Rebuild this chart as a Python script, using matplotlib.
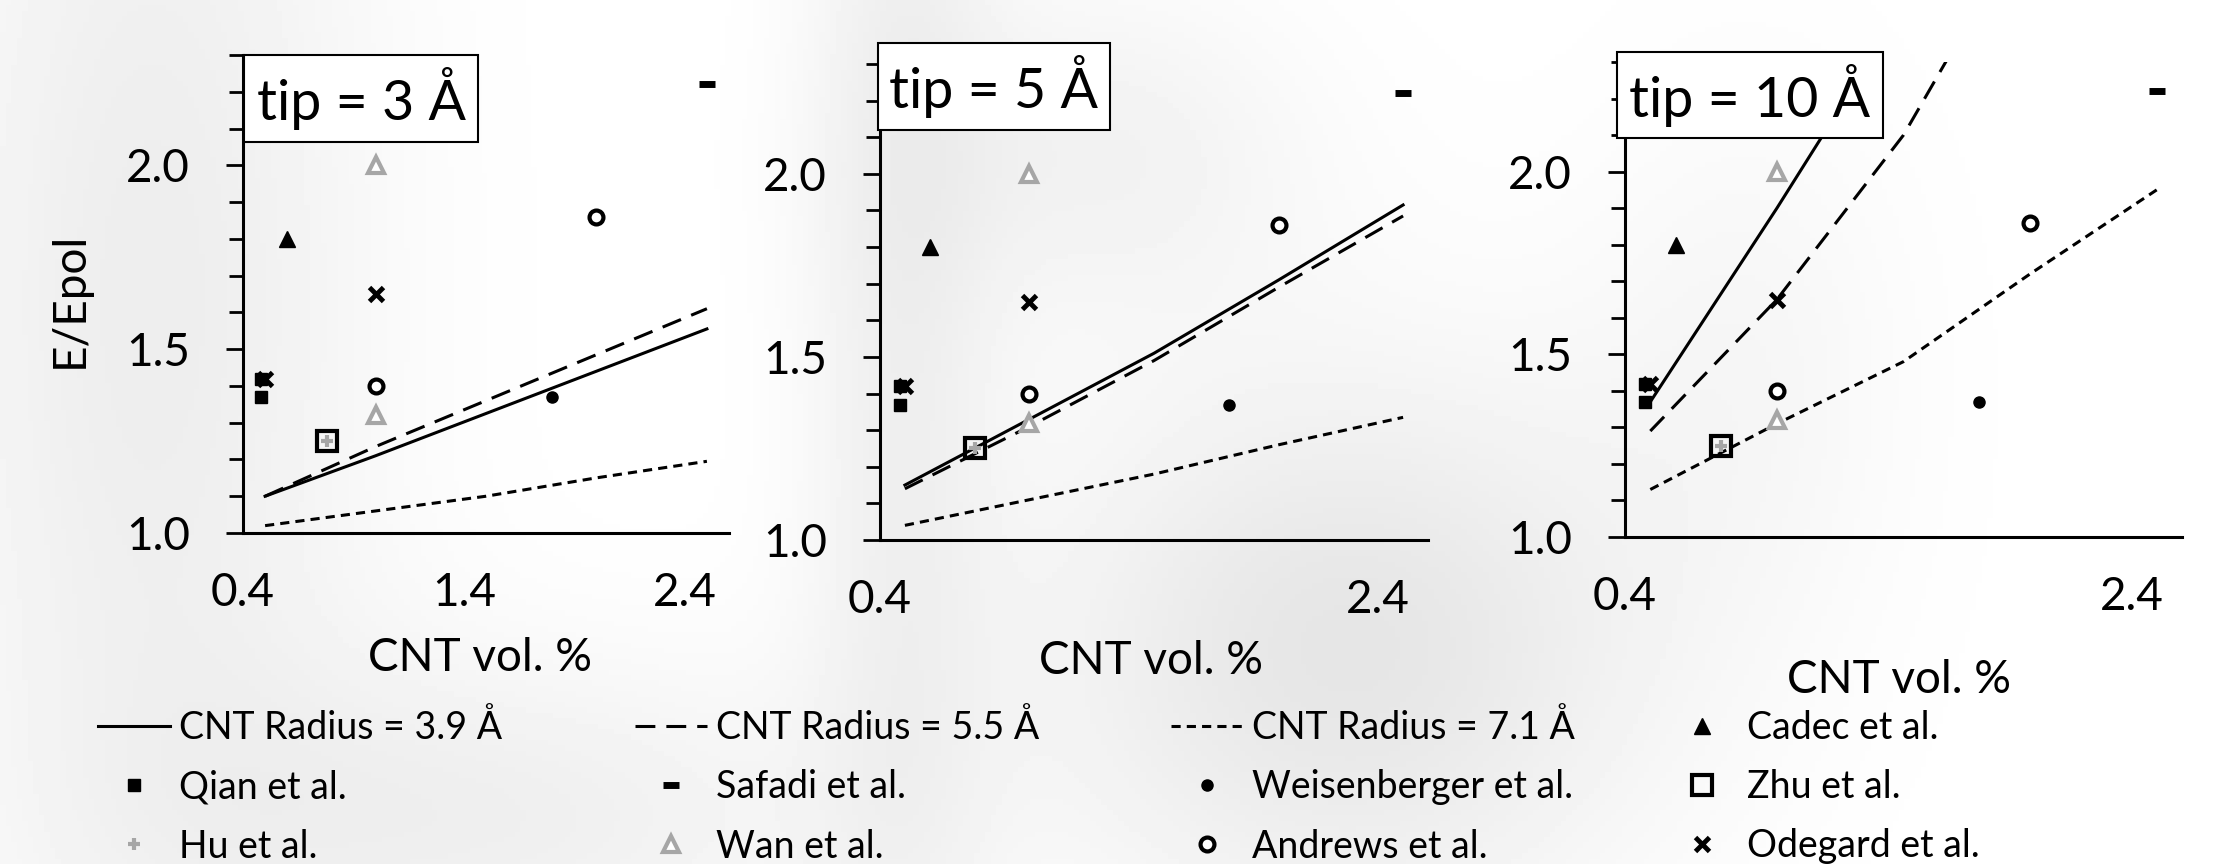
import matplotlib
matplotlib.use("Agg")
import matplotlib.pyplot as plt
from matplotlib.lines import Line2D
from matplotlib.patches import Rectangle
import numpy as np

plt.rcParams['font.family'] = ['Lato', 'DejaVu Sans']

# model curves (E/Epol vs CNT vol. %), one set per tip size
tips = ['tip = 3 Å', 'tip = 5 Å', 'tip = 10 Å']
model_x = [0.5, 1.0, 1.5, 2.0, 2.5]
r39 = [
    [1.10, 1.21, 1.325, 1.44, 1.555],
    [1.15, 1.33, 1.51, 1.71, 1.915],
    [1.37, 1.90, 2.45],
]
r55 = [
    [1.10, 1.235, 1.36, 1.485, 1.61],
    [1.14, 1.31, 1.49, 1.69, 1.885],
    [1.29, 1.65, 2.10, 2.70],
]
r71 = [
    [1.02, 1.06, 1.10, 1.15, 1.195],
    [1.04, 1.11, 1.18, 1.26, 1.335],
    [1.13, 1.31, 1.48, 1.72, 1.95],
]

# experimental points
qian_x, qian_y = [0.48, 0.48], [1.37, 1.42]
safadi_x, safadi_y = [2.5], [2.22]
hu_x, hu_y = [0.78], [1.25]
wan_x, wan_y = [1.0, 1.0], [2.0, 1.32]
weis_x, weis_y = [1.8], [1.37]
andrews_x, andrews_y = [1.0, 2.0], [1.40, 1.86]
cadec_x, cadec_y = [0.6], [1.80]
zhu_x, zhu_y = [0.78], [1.25]
odegard_x, odegard_y = [0.5, 1.0], [1.42, 1.65]

xticks = [[0.4, 1.4, 2.4], [0.4, 2.4], [0.4, 2.4]]

GREY = '#A6A6A6'
W, H = 2214, 864

fig = plt.figure(figsize=(W / 100, H / 100), dpi=100)

# faint background picture
bg = fig.add_axes([0, 0, 1, 1], zorder=-10)
gx, gy = np.meshgrid(np.linspace(0, W, 400), np.linspace(0, H, 160))
field = np.zeros_like(gx)
for cx, cy, sx, sy, a in [(150, 300, 160, 500, 0.07), (900, 250, 70, 600, 0.06),
                          (1350, 650, 220, 200, 0.10), (1100, 150, 150, 120, 0.05),
                          (500, 820, 250, 120, 0.06), (1750, 350, 120, 200, 0.03)]:
    field += a * np.exp(-((gx - cx) ** 2 / (2 * sx ** 2) + (gy - cy) ** 2 / (2 * sy ** 2)))
bg.imshow(1 - field, cmap='gray', vmin=0, vmax=1, extent=[0, W, H, 0], aspect='auto')
bg.axis('off')

rects = [
    [243 / W, 1 - 533 / H, 486 / W, 478 / H],
    [880 / W, 1 - 540 / H, 548 / W, 476 / H],
    [1625 / W, 1 - 537 / H, 557 / W, 475 / H],
]
boxes = [(0.002, 0.818, 0.484, 1.0), (-0.004, 0.861, 0.42, 1.044), (-0.014, 0.84, 0.463, 1.02)]
xlab_pos = [(0.488, -0.262), (0.495, -0.254), (0.492, -0.301)]

solid_kw = dict(color='black', lw=2.2, ls='-')
dash_kw = dict(color='black', lw=2.2, dashes=(6.5, 3.6))
dot_kw = dict(color='black', lw=2.2, dashes=(3.0, 2.0))

styles = {
    'Qian': dict(marker='s', ms=8.5, color='black', ls='none'),
    'Safadi': dict(marker='_', ms=12, mew=5, color='black', ls='none'),
    'Hu': dict(marker='+', ms=9, mew=3, color=GREY, ls='none'),
    'Wan': dict(marker='^', ms=11, mew=3, mfc='white', mec=GREY, ls='none'),
    'Weis': dict(marker='o', ms=8, color='black', ls='none'),
    'Andrews': dict(marker='o', ms=10, mew=3, mfc='white', mec='black', ls='none'),
    'Cadec': dict(marker='^', ms=12, color='black', ls='none'),
    'Zhu': dict(marker='s', ms=15, mew=3, mfc='none', mec='black', ls='none'),
    'Odegard': dict(marker='x', ms=10, mew=3.5, color='black', ls='none'),
}

for i in range(3):
    ax = fig.add_axes(rects[i])
    ax.set_facecolor('none')
    n1, n2, n3 = len(r39[i]), len(r55[i]), len(r71[i])
    ax.plot(model_x[:n1], r39[i], **solid_kw)
    ax.plot(model_x[:n2], r55[i], **dash_kw)
    ax.plot(model_x[:n3], r71[i], **dot_kw)

    ax.plot(qian_x, qian_y, **styles['Qian'])
    ax.plot(safadi_x, safadi_y, **styles['Safadi'])
    ax.plot(weis_x, weis_y, **styles['Weis'])
    ax.plot(andrews_x, andrews_y, **styles['Andrews'])
    ax.plot(cadec_x, cadec_y, **styles['Cadec'])
    ax.plot(zhu_x, zhu_y, **styles['Zhu'])
    ax.plot(odegard_x, odegard_y, **styles['Odegard'])
    ax.plot(wan_x, wan_y, **styles['Wan'])
    ax.plot(hu_x, hu_y, **styles['Hu'])

    ax.set_xlim(0.4, 2.6)
    ax.set_ylim(1.0, 2.3)
    ax.set_xticks(xticks[i])
    ax.set_xticklabels([f'{v:.1f}' for v in xticks[i]])
    ax.set_yticks([1.0, 1.5, 2.0])
    ax.set_yticklabels(['1.0', '1.5', '2.0'])
    ax.set_yticks(np.arange(1.0, 2.31, 0.1), minor=True)
    ax.tick_params(axis='x', length=0, pad=28, labelsize=33)
    ax.tick_params(axis='y', which='major', length=12, width=2, pad=26, labelsize=33)
    ax.tick_params(axis='y', which='minor', length=10, width=2)
    for s in ['top', 'right']:
        ax.spines[s].set_visible(False)
    for s in ['left', 'bottom']:
        ax.spines[s].set_linewidth(2.2)

    x0, y0, x1, y1 = boxes[i]
    ax.add_patch(Rectangle((x0, y0), x1 - x0, y1 - y0, transform=ax.transAxes,
                           facecolor='white', edgecolor='black', lw=1.5,
                           clip_on=False, zorder=5))
    ax.text((x0 + x1) / 2, (y0 + y1) / 2, tips[i], transform=ax.transAxes,
            ha='center', va='center', fontsize=40, zorder=6)

    ax.set_xlabel('CNT vol. %', fontsize=33, va='center')
    ax.xaxis.set_label_coords(*xlab_pos[i])
    if i == 0:
        ax.set_ylabel('E/Epol', fontsize=33, va='center')
        ax.yaxis.set_label_coords(-0.356, 0.487)

# legend: four columns
columns = [
    [(Line2D([], [], **solid_kw), 'CNT Radius = 3.9 Å'),
     (Line2D([], [], **styles['Qian']), 'Qian et al.'),
     (Line2D([], [], **styles['Hu']), 'Hu et al.')],
    [(Line2D([], [], **dash_kw), 'CNT Radius = 5.5 Å'),
     (Line2D([], [], **styles['Safadi']), 'Safadi et al.'),
     (Line2D([], [], **styles['Wan']), 'Wan et al.')],
    [(Line2D([], [], **dot_kw), 'CNT Radius = 7.1 Å'),
     (Line2D([], [], **styles['Weis']), 'Weisenberger et al.'),
     (Line2D([], [], **styles['Andrews']), 'Andrews et al.')],
    [(Line2D([], [], **styles['Cadec']), 'Cadec et al.'),
     (Line2D([], [], **styles['Zhu']), 'Zhu et al.'),
     (Line2D([], [], **styles['Odegard']), 'Odegard et al.')],
]
col_x = [98, 635, 1171, 1666]
for cx, col in zip(col_x, columns):
    h, l = zip(*col)
    fig.legend(h, l, loc='upper left', bbox_to_anchor=(cx / W, 1 - 710 / H),
               frameon=False, fontsize=27, handlelength=1.92, handletextpad=0.24,
               labelspacing=0.62, borderpad=0, borderaxespad=0)

fig.savefig('out.png', dpi=100)
